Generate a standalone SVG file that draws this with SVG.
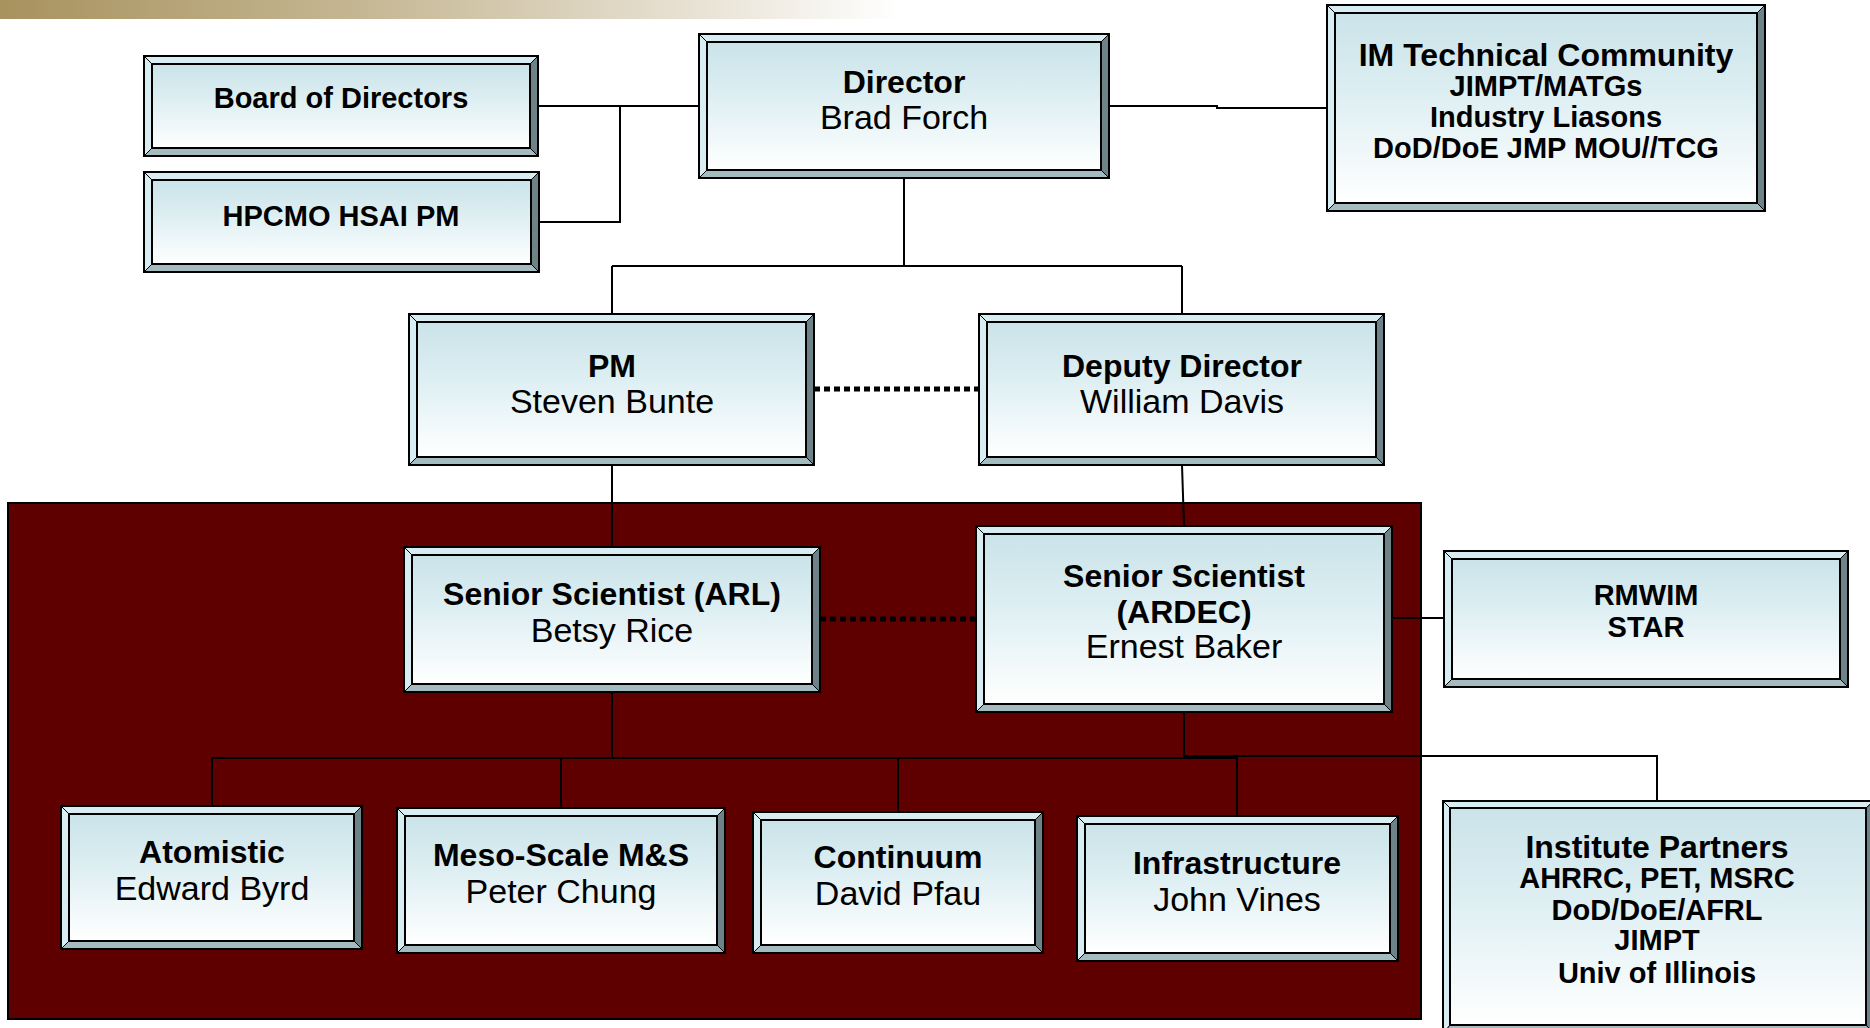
<svg xmlns="http://www.w3.org/2000/svg" width="1870" height="1028" viewBox="0 0 1870 1028">
<defs>
<linearGradient id="face" x1="0" y1="0" x2="0" y2="1">
<stop offset="0" stop-color="#cae3e9"/>
<stop offset="0.4" stop-color="#dceef2"/>
<stop offset="1" stop-color="#ffffff"/>
</linearGradient>
<linearGradient id="hdr" gradientUnits="userSpaceOnUse" x1="0" y1="0" x2="900" y2="0">
<stop offset="0" stop-color="#a8925e"/>
<stop offset="0.4" stop-color="#c5b793"/>
<stop offset="0.75" stop-color="#e6dfd0"/>
<stop offset="1" stop-color="#ffffff"/>
</linearGradient>
</defs>
<style>
.top,.lft{fill:#d8edf1}
.rgt{fill:#6d8387}
.bot{fill:#a4bbbf}
.bev{stroke:#000;stroke-width:1;stroke-linejoin:round}
.out{fill:none;stroke:#000;stroke-width:2}
.face{fill:url(#face);stroke:#000;stroke-width:2}
text{font-family:"Liberation Sans",Arial,Helvetica,sans-serif;fill:#000;text-anchor:middle}
.t{font-weight:bold;font-size:32px}
.n{font-size:34px}
.s{font-weight:bold;font-size:29px}
.ln{fill:none;stroke:#000;stroke-width:2}
.dot{fill:none;stroke:#000;stroke-width:5;stroke-dasharray:6 4}
</style>
<rect x="0" y="0" width="900" height="19" fill="url(#hdr)"/>
<rect id="panel" x="8" y="503" width="1413" height="516" fill="#5e0000" stroke="#000" stroke-width="2"/>
<g id="connectors">
<path class="ln" d="M538,106 H699 M539,222 H620 V106"/>
<path class="ln" d="M1109,106 H1217 V108 H1327"/>
<path class="ln" d="M904,178 V266 M612,266 H1182 M612,266 V314 M1182,266 V314"/>
<path class="ln" d="M612,465 V547 M1182,465 L1184,526"/>
<path class="dot" d="M814,389 H979"/>
<path class="dot" d="M820,619 H976"/>
<path class="ln" d="M1392,618 H1444"/>
<path class="ln" d="M612,692 V757"/>
<path class="ln" d="M1184,712 V756 H1657 V801"/>
<path class="ln" stroke-width="2.5" d="M212,806 V758 H1237 V816 M561,758 V808 M898,758 V812"/>
</g>
<g id="board">
<rect class="face" x="144" y="56" width="394" height="100"/>
<polygon class="top bev" points="144,56 538,56 530,64 152,64"/>
<polygon class="lft bev" points="144,56 152,64 152,148 144,156"/>
<polygon class="rgt bev" points="538,56 538,156 530,148 530,64"/>
<polygon class="bot bev" points="144,156 538,156 530,148 152,148"/>
<rect class="face" x="152" y="64" width="378" height="84"/>
<rect class="out" x="144" y="56" width="394" height="100"/>
<text class="s" x="341" y="108">Board of Directors</text>
</g>
<g id="hpcmo">
<polygon class="top bev" points="144,172 539,172 531,180 152,180"/>
<polygon class="lft bev" points="144,172 152,180 152,264 144,272"/>
<polygon class="rgt bev" points="539,172 539,272 531,264 531,180"/>
<polygon class="bot bev" points="144,272 539,272 531,264 152,264"/>
<rect class="face" x="152" y="180" width="379" height="84"/>
<rect class="out" x="144" y="172" width="395" height="100"/>
<text class="s" x="341" y="226">HPCMO HSAI PM</text>
</g>
<g id="director">
<polygon class="top bev" points="699,34 1109,34 1101,42 707,42"/>
<polygon class="lft bev" points="699,34 707,42 707,170 699,178"/>
<polygon class="rgt bev" points="1109,34 1109,178 1101,170 1101,42"/>
<polygon class="bot bev" points="699,178 1109,178 1101,170 707,170"/>
<rect class="face" x="707" y="42" width="394" height="128"/>
<rect class="out" x="699" y="34" width="410" height="144"/>
<text class="t" x="904" y="93">Director</text>
<text class="n" x="904" y="129">Brad Forch</text>
</g>
<g id="imtech">
<polygon class="top bev" points="1327,5 1765,5 1757,13 1335,13"/>
<polygon class="lft bev" points="1327,5 1335,13 1335,203 1327,211"/>
<polygon class="rgt bev" points="1765,5 1765,211 1757,203 1757,13"/>
<polygon class="bot bev" points="1327,211 1765,211 1757,203 1335,203"/>
<rect class="face" x="1335" y="13" width="422" height="190"/>
<rect class="out" x="1327" y="5" width="438" height="206"/>
<text class="t" x="1546" y="66">IM Technical Community</text>
<text class="s" x="1546" y="96">JIMPT/MATGs</text>
<text class="s" x="1546" y="127">Industry Liasons</text>
<text class="s" x="1546" y="158">DoD/DoE JMP MOU//TCG</text>
</g>
<g id="pm">
<polygon class="top bev" points="409,314 814,314 806,322 417,322"/>
<polygon class="lft bev" points="409,314 417,322 417,457 409,465"/>
<polygon class="rgt bev" points="814,314 814,465 806,457 806,322"/>
<polygon class="bot bev" points="409,465 814,465 806,457 417,457"/>
<rect class="face" x="417" y="322" width="389" height="135"/>
<rect class="out" x="409" y="314" width="405" height="151"/>
<text class="t" x="612" y="377">PM</text>
<text class="n" x="612" y="413">Steven Bunte</text>
</g>
<g id="deputy">
<polygon class="top bev" points="979,314 1384,314 1376,322 987,322"/>
<polygon class="lft bev" points="979,314 987,322 987,457 979,465"/>
<polygon class="rgt bev" points="1384,314 1384,465 1376,457 1376,322"/>
<polygon class="bot bev" points="979,465 1384,465 1376,457 987,457"/>
<rect class="face" x="987" y="322" width="389" height="135"/>
<rect class="out" x="979" y="314" width="405" height="151"/>
<text class="t" x="1182" y="377">Deputy Director</text>
<text class="n" x="1182" y="413">William Davis</text>
</g>
<g id="arl">
<polygon class="top bev" points="404,547 820,547 812,555 412,555"/>
<polygon class="lft bev" points="404,547 412,555 412,684 404,692"/>
<polygon class="rgt bev" points="820,547 820,692 812,684 812,555"/>
<polygon class="bot bev" points="404,692 820,692 812,684 412,684"/>
<rect class="face" x="412" y="555" width="400" height="129"/>
<rect class="out" x="404" y="547" width="416" height="145"/>
<text class="t" x="612" y="605">Senior Scientist (ARL)</text>
<text class="n" x="612" y="642">Betsy Rice</text>
</g>
<g id="ardec">
<polygon class="top bev" points="976,526 1392,526 1384,534 984,534"/>
<polygon class="lft bev" points="976,526 984,534 984,704 976,712"/>
<polygon class="rgt bev" points="1392,526 1392,712 1384,704 1384,534"/>
<polygon class="bot bev" points="976,712 1392,712 1384,704 984,704"/>
<rect class="face" x="984" y="534" width="400" height="170"/>
<rect class="out" x="976" y="526" width="416" height="186"/>
<text class="t" x="1184" y="587">Senior Scientist</text>
<text class="t" x="1184" y="623">(ARDEC)</text>
<text class="n" x="1184" y="658">Ernest Baker</text>
</g>
<g id="rmwim">
<polygon class="top bev" points="1444,551 1848,551 1840,559 1452,559"/>
<polygon class="lft bev" points="1444,551 1452,559 1452,679 1444,687"/>
<polygon class="rgt bev" points="1848,551 1848,687 1840,679 1840,559"/>
<polygon class="bot bev" points="1444,687 1848,687 1840,679 1452,679"/>
<rect class="face" x="1452" y="559" width="388" height="120"/>
<rect class="out" x="1444" y="551" width="404" height="136"/>
<text class="s" x="1646" y="605">RMWIM</text>
<text class="s" x="1646" y="637">STAR</text>
</g>
<g id="atomistic">
<polygon class="top bev" points="61,806 362,806 354,814 69,814"/>
<polygon class="lft bev" points="61,806 69,814 69,941 61,949"/>
<polygon class="rgt bev" points="362,806 362,949 354,941 354,814"/>
<polygon class="bot bev" points="61,949 362,949 354,941 69,941"/>
<rect class="face" x="69" y="814" width="285" height="127"/>
<rect class="out" x="61" y="806" width="301" height="143"/>
<text class="t" x="212" y="863">Atomistic</text>
<text class="n" x="212" y="900">Edward Byrd</text>
</g>
<g id="meso">
<polygon class="top bev" points="397,808 725,808 717,816 405,816"/>
<polygon class="lft bev" points="397,808 405,816 405,945 397,953"/>
<polygon class="rgt bev" points="725,808 725,953 717,945 717,816"/>
<polygon class="bot bev" points="397,953 725,953 717,945 405,945"/>
<rect class="face" x="405" y="816" width="312" height="129"/>
<rect class="out" x="397" y="808" width="328" height="145"/>
<text class="t" x="561" y="866">Meso-Scale M&amp;S</text>
<text class="n" x="561" y="903">Peter Chung</text>
</g>
<g id="continuum">
<polygon class="top bev" points="753,812 1043,812 1035,820 761,820"/>
<polygon class="lft bev" points="753,812 761,820 761,945 753,953"/>
<polygon class="rgt bev" points="1043,812 1043,953 1035,945 1035,820"/>
<polygon class="bot bev" points="753,953 1043,953 1035,945 761,945"/>
<rect class="face" x="761" y="820" width="274" height="125"/>
<rect class="out" x="753" y="812" width="290" height="141"/>
<text class="t" x="898" y="868">Continuum</text>
<text class="n" x="898" y="905">David Pfau</text>
</g>
<g id="infra">
<polygon class="top bev" points="1077,816 1398,816 1390,824 1085,824"/>
<polygon class="lft bev" points="1077,816 1085,824 1085,953 1077,961"/>
<polygon class="rgt bev" points="1398,816 1398,961 1390,953 1390,824"/>
<polygon class="bot bev" points="1077,961 1398,961 1390,953 1085,953"/>
<rect class="face" x="1085" y="824" width="305" height="129"/>
<rect class="out" x="1077" y="816" width="321" height="145"/>
<text class="t" x="1237" y="874">Infrastructure</text>
<text class="n" x="1237" y="911">John Vines</text>
</g>
<g id="institute">
<polygon class="top bev" points="1443,801 1874,801 1866,808 1450,808"/>
<polygon class="lft bev" points="1443,801 1450,808 1450,1025 1443,1034"/>
<polygon class="rgt bev" points="1874,801 1874,1034 1866,1025 1866,808"/>
<polygon class="bot bev" points="1443,1034 1874,1034 1866,1025 1450,1025"/>
<rect class="face" x="1450" y="808" width="416" height="217"/>
<rect class="out" x="1443" y="801" width="431" height="233"/>
<text class="t" x="1657" y="858">Institute Partners</text>
<text class="s" x="1657" y="888">AHRRC, PET, MSRC</text>
<text class="s" x="1657" y="920">DoD/DoE/AFRL</text>
<text class="s" x="1657" y="950">JIMPT</text>
<text class="s" x="1657" y="983">Univ of Illinois</text>
</g>
</svg>
